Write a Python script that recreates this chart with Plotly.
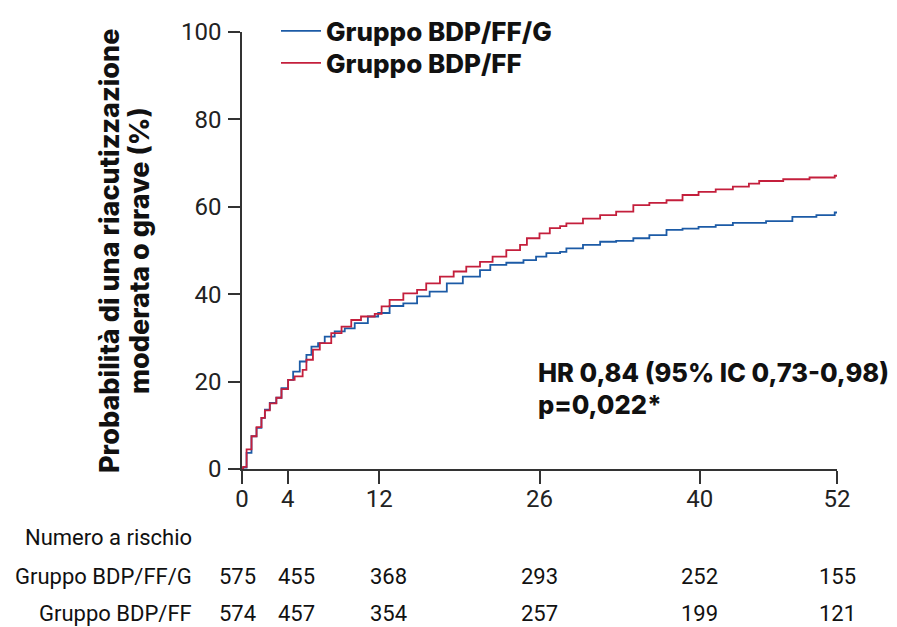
import plotly.graph_objects as go

# ---------------- data ----------------
weeks_bdpffg = [0, 0.1, 0.4, 0.83, 1.27, 1.7, 2.0, 2.43, 3.0, 3.45, 4.03, 4.47, 5.05, 5.63, 6.07,
                6.65, 7.23, 8.1, 8.98, 9.85, 11.0, 11.9, 12.9, 14.1, 15.3, 16.4, 17.9, 19.3, 20.8,
                21.7, 23.1, 24.6, 25.7, 26.6, 27.8, 28.35, 29.8, 31.3, 32.7, 34.2, 35.6, 37.1, 38.5,
                39.9, 41.4, 42.9, 45.8, 48.1, 50.2, 51.8, 52]
prob_bdpffg = [0, 0.3, 3.7, 7.5, 9.4, 11.7, 13.6, 15.1, 16.3, 18.5, 20.4, 22.3, 24.6, 26.1, 28.0,
               28.8, 30.3, 31.5, 32.2, 33.4, 34.9, 35.7, 37.3, 37.9, 39.5, 40.6, 42.5, 44.0, 45.5,
               46.7, 47.2, 47.8, 48.6, 49.4, 49.7, 50.5, 51.3, 52.0, 52.2, 52.8, 53.5, 54.7, 55.0,
               55.4, 55.8, 56.3, 56.7, 57.7, 58.1, 58.7, 58.7]

weeks_bdpff = [0, 0.1, 0.4, 0.83, 1.27, 1.7, 2.0, 2.43, 3.0, 3.45, 4.03, 4.6, 5.3, 5.63, 6.2, 6.8,
               7.8, 8.7, 9.55, 10.4, 11.6, 12.2, 12.9, 14.1, 15.3, 16.1, 17.3, 18.5, 19.6, 20.8,
               21.9, 23.1, 24.3, 24.9, 26.0, 26.9, 27.8, 28.35, 29.8, 31.3, 32.7, 34.2, 35.6, 37.1,
               38.5, 39.9, 41.4, 42.9, 44.3, 45.2, 47.3, 49.6, 51.8, 52]
prob_bdpff = [0, 0.5, 4.5, 7.5, 9.6, 11.7, 13.4, 15.0, 16.3, 18.3, 20.4, 21.2, 22.7, 25.0, 27.3, 28.8,
              31.1, 32.6, 34.1, 34.9, 35.5, 37.2, 38.7, 40.2, 41.0, 42.5, 44.0, 45.2, 46.3, 47.4,
              48.6, 50.1, 51.3, 52.8, 53.9, 55.1, 55.6, 56.2, 57.3, 58.1, 58.9, 60.4, 60.9, 61.5,
              62.7, 63.4, 64.0, 64.6, 65.3, 65.9, 66.3, 66.7, 67.1, 67.1]

series_names = ["Gruppo BDP/FF/G", "Gruppo BDP/FF"]
x_ticks = [0, 4, 12, 26, 40, 52]
y_ticks = [0, 20, 40, 60, 80, 100]
risk_weeks = [0, 4, 12, 26, 40, 52]
risk_bdpffg = [575, 455, 368, 293, 252, 155]
risk_bdpff = [574, 457, 354, 257, 199, 121]
risk_title = "Numero a rischio"
y_title_lines = ["Probabilità di una riacutizzazione", "moderata o grave (%)"]
hr_lines = ["HR 0,84 (95% IC 0,73-0,98)", "p=0,022*"]

# ---------------- styling ----------------
OFF = 8  # default page margin of the html body
FW, FH = 897 - OFF, 627 - OFF
ML, MR, MT, MB = 234, 60, 24, 158
PW, PH = FW - ML - MR, FH - MT - MB
BLUE = "#1c5ba6"
RED = "#c41f3c"
AXC = "#333333"
NARROW = "Roboto, sans-serif"
BOLD = "Inter, Lato, DejaVu Sans, sans-serif"


def py_(py):  # page pixel y -> paper
    return (FH - MB - (py - OFF)) / PH


def px_(px):  # page pixel x -> paper
    return (px - OFF - ML) / PW


fig = go.Figure()
fig.add_trace(go.Scatter(x=weeks_bdpffg, y=prob_bdpffg, mode="lines", name=series_names[0],
                         legend="legend",
                         line=dict(color=BLUE, width=1.8, shape="hv")))
fig.add_trace(go.Scatter(x=weeks_bdpff, y=prob_bdpff, mode="lines", name=series_names[1],
                         legend="legend2",
                         line=dict(color=RED, width=1.8, shape="hv")))

annotations = []
bold_font = dict(family=BOLD, size=25.5, color="#111", weight=800)
# y-axis title (two lines)
for txt, cx in zip(y_title_lines, [109, 139]):
    annotations.append(dict(text=txt, textangle=-90, xref="paper", yref="paper",
                            x=px_(cx), y=py_(251), xanchor="center", yanchor="middle",
                            showarrow=False, font=dict(family=BOLD, size=27, color="#111", weight=800)))
# HR annotation (two lines)
for txt, cy in zip(hr_lines, [372, 404]):
    annotations.append(dict(text=txt, xref="paper", yref="paper", x=px_(536), y=py_(cy),
                            xanchor="left", yanchor="middle", showarrow=False, align="left",
                            font=bold_font))
# risk table
table_font = dict(family=NARROW, size=22, color="#111")
annotations.append(dict(text=risk_title, xref="paper", yref="paper", x=px_(194),
                        y=py_(537), xanchor="right", yanchor="middle",
                        showarrow=False, font=table_font))
shifts = [-5, 9, 9, 0, 0, 0]
for name, row, py in [(series_names[0], risk_bdpffg, 576), (series_names[1], risk_bdpff, 613)]:
    annotations.append(dict(text=name, xref="paper", yref="paper", x=px_(194),
                            y=py_(py), xanchor="right", yanchor="middle",
                            showarrow=False, font=table_font))
    for wk, n, sh in zip(risk_weeks, row, shifts):
        annotations.append(dict(text=str(n), xref="x", yref="paper", x=wk, xshift=sh,
                                y=py_(py), xanchor="center", yanchor="middle",
                                showarrow=False, font=table_font))

legend_common = dict(xanchor="left", yanchor="middle", font=dict(bold_font, size=26),
                     bgcolor="rgba(0,0,0,0)", itemwidth=40)

fig.update_layout(
    width=FW, height=FH,
    margin=dict(l=ML, r=MR, t=MT, b=MB, autoexpand=False),
    paper_bgcolor="white", plot_bgcolor="white",
    showlegend=True,
    legend=dict(x=px_(276), y=py_(31), **legend_common),
    legend2=dict(x=px_(276), y=py_(63), **legend_common),
    annotations=annotations,
    xaxis=dict(range=[0, 52], tickvals=x_ticks, ticktext=[str(t) for t in x_ticks],
               showline=True, linecolor=AXC, linewidth=1.5, ticks="outside", ticklen=13,
               tickwidth=1.5, tickcolor=AXC, showgrid=False, zeroline=False,
               ticklabelstandoff=-6,
               tickfont=dict(family=NARROW, size=24, color="#222")),
    yaxis=dict(range=[0, 100], tickvals=y_ticks, showline=True, linecolor=AXC, linewidth=1.5,
               ticks="outside", ticklen=12, tickwidth=1.5, tickcolor=AXC, showgrid=False,
               zeroline=False, ticklabelstandoff=2,
               tickfont=dict(family=NARROW, size=24, color="#222")),
)

fig.write_html("out.html")
